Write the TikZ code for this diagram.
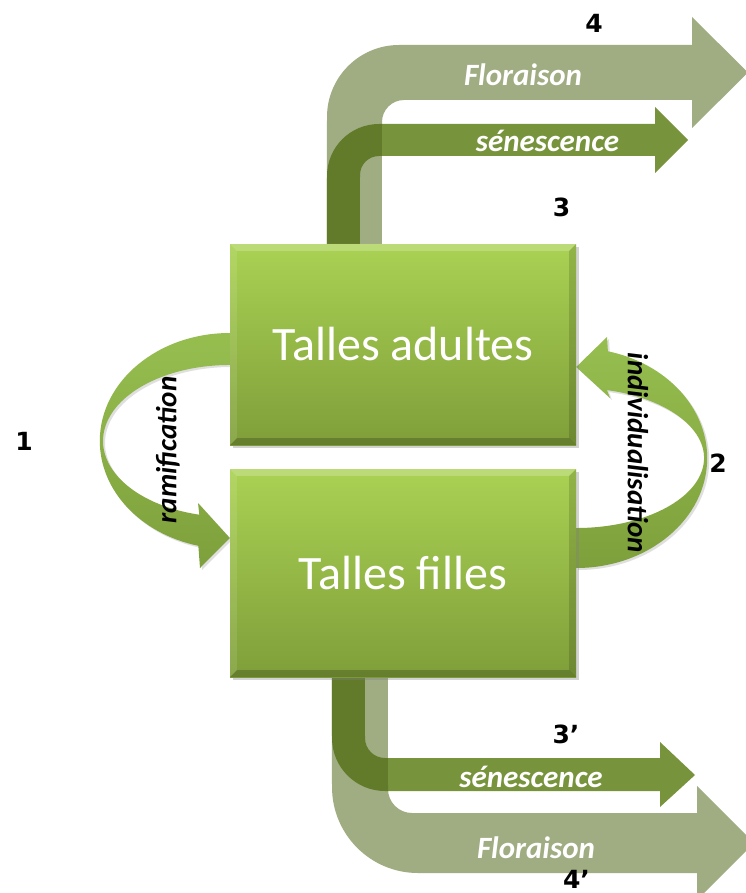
\documentclass[tikz,border=0pt]{standalone}
\usepackage{fontspec}
\setmainfont{Carlito}
\newfontfamily\numfont{DejaVu Sans}
\usetikzlibrary{calc,shadows}
\definecolor{boxtop}{HTML}{AAD253}
\definecolor{boxbot}{HTML}{7F9E3A}
\definecolor{sen}{HTML}{77933C}
\definecolor{flo}{HTML}{52681C}
\definecolor{curvtop}{HTML}{96BE4F}
\definecolor{curvbot}{HTML}{7EA03C}
\pgfdeclarelayer{bg}
\pgfsetlayers{bg,main}
\begin{document}
\begin{tikzpicture}[x=1pt,y=-1pt,
  box/.style={rectangle, minimum width=346pt, inner sep=0pt, draw=none,
    top color=boxtop, bottom color=boxbot, text=white,
    drop shadow={shadow xshift=2.5pt, shadow yshift=-2.5pt, opacity=.35},
    font=\fontsize{48}{56}\selectfont},
  bevlight/.style={fill=white, fill opacity=.22},
  bevdark/.style={fill=black, fill opacity=.14},
  curv/.style={top color=curvtop, bottom color=curvbot,
    drop shadow={shadow xshift=2pt, shadow yshift=-2pt, opacity=.25}},
  senarrow/.style={fill=sen},
  floarrow/.style={fill=flo, fill opacity=.55},
  arrtxt/.style={text=white, anchor=base, inner sep=0pt,
    font=\fontsize{31}{34}\selectfont\bfseries\itshape},
  lbl/.style={text=black, inner sep=0pt,
    font=\fontsize{29}{32}\selectfont\bfseries\itshape},
  num/.style={text=black, anchor=base, inner sep=0pt,
    font=\numfont\fontsize{25}{30}\selectfont\bfseries}]
\useasboundingbox (0,0) rectangle (745,893);
\clip (0,0) rectangle (745,893);

% boxes
\node[box, minimum height=201pt] (ta) at (403,344.5) {Talles adultes};
\node[box, minimum height=208pt] (tf) at (403,573) {Talles filles};

% bevels
\foreach \b in {ta,tf}{
  \fill[bevlight] (\b.north west) -- (\b.north east) -- ($(\b.north east)+(-7,7)$) -- ($(\b.north west)+(7,7)$) -- cycle;
  \fill[bevlight, fill opacity=.1] (\b.north west) -- (\b.south west) -- ($(\b.south west)+(7,-7)$) -- ($(\b.north west)+(7,7)$) -- cycle;
  \fill[bevdark] (\b.north east) -- (\b.south east) -- ($(\b.south east)+(-7,-7)$) -- ($(\b.north east)+(-7,7)$) -- cycle;
  \fill[bevdark, fill opacity=.2] (\b.south west) -- (\b.south east) -- ($(\b.south east)+(-7,-7)$) -- ($(\b.south west)+(7,-7)$) -- cycle;
}

% free ends of connectors
\path (ta.north west) ++(97,2) coordinate (s3l) ++(33,0) coordinate (s3r);
\path (ta.north west) ++(97,2) coordinate (f4l) ++(55,0) coordinate (f4r);
\path (tf.south west) ++(102,-2) coordinate (s3bl) ++(33,0) coordinate (s3br);
\path (tf.south west) ++(102,-2) coordinate (f4bl) ++(56,0) coordinate (f4br);
\coordinate (ramstart) at ($(ta.west)+(0,-11.5)$);
\coordinate (indstart) at ($(tf.east)+(0,-5)$);

\begin{pgfonlayer}{bg}
\fill[white] (0,0) rectangle (745,893);
% ramification (1)
\path[curv] (ramstart) arc[start angle=270, end angle=104, x radius=130, y radius=108]
  -- (200,568) -- (tf.west |- 0,538) -- (198,503) -- (199.3,514.7)
  arc[start angle=104, end angle=270, x radius=127, y radius=76] -- cycle;
% individualisation (2)
\path[curv] (indstart) arc[start angle=90, end angle=-76, x radius=131, y radius=110]
  -- (607,337) -- (ta.east |- 0,367) -- (610,398) -- (607,390.1)
  arc[start angle=-76, end angle=90, x radius=128, y radius=70] -- cycle;

% senescence top (3)
\fill[senarrow] (s3l) -- (327,176) arc[start angle=180, end angle=270, radius=52]
  -- (655,124) -- (655,107) -- (688,140) -- (655,173) -- (655,156) -- (379,156)
  arc[start angle=270, end angle=180, radius=19] -- (s3r) -- cycle;
% senescence bottom (3')
\fill[senarrow] (s3bl) -- (332,738) arc[start angle=180, end angle=90, radius=53]
  -- (660,791) -- (660,807) -- (695,775) -- (660,742) -- (660,758) -- (385,758)
  arc[start angle=90, end angle=180, radius=20] -- (s3br) -- cycle;
% floraison top (4)
\fill[floarrow] (f4l) -- (327,117) arc[start angle=180, end angle=270, radius=72]
  -- (692,45) -- (692,17) -- (748,72.5) -- (692,128) -- (692,100) -- (404,100)
  arc[start angle=270, end angle=180, radius=22] -- (f4r) -- cycle;
% floraison bottom (4')
\fill[floarrow] (f4bl) -- (332,787) arc[start angle=180, end angle=90, radius=86]
  -- (697,873) -- (697,900) -- (754,843) -- (697,786) -- (697,813) -- (412,813)
  arc[start angle=90, end angle=180, radius=24] -- (f4br) -- cycle;
\end{pgfonlayer}

% arrow texts
\node[arrtxt] (tflo) at (523,86) {Floraison};
\node[arrtxt] (tsen) at (547.5,152) {sénescence};
\node[arrtxt] (tsenb) at (531,787) {sénescence};
\node[arrtxt] (tflob) at (536,858) {Floraison};
\node[lbl, rotate=90] (tram) at (168,450) {ramification};
\node[lbl, rotate=-90] (tind) at (638,453) {individualisation};

% numbers
\node[num] (n1) at (24,450) {1};
\node[num] (n2) at (718,472) {2};
\node[num] (n3) at (561.5,217) {3};
\node[num] (n4) at (594,33) {4};
\node[num] (n3b) at (566,743) {3’};
\node[num] (n4b) at (576.5,888) {4’};
\end{tikzpicture}
\end{document}
